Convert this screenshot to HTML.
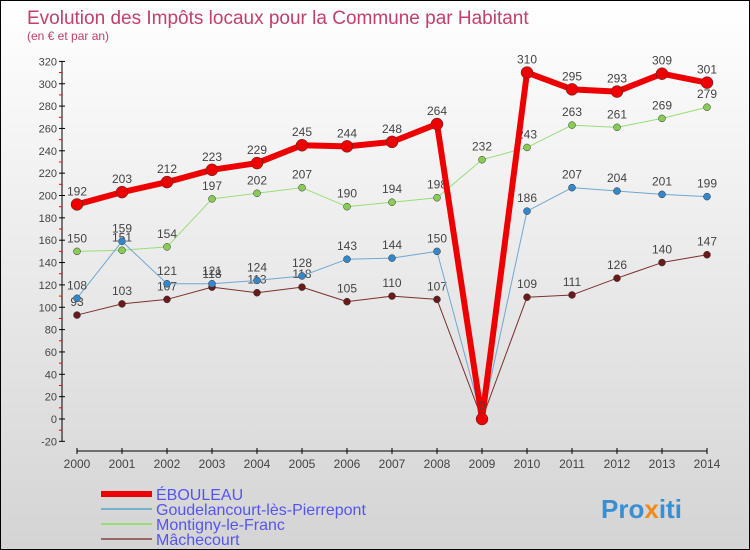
<!DOCTYPE html>
<html><head><meta charset="utf-8"><style>
body{margin:0}
#wrap{position:relative;width:750px;height:550px;box-sizing:border-box;border:1px solid #000;background:linear-gradient(#fff,#d4d4d4);font-family:"Liberation Sans",sans-serif;overflow:hidden}
</style></head><body>
<div id="wrap">
<svg id="c" width="750" height="550" style="position:absolute;left:0;top:0">
<text x="26" y="23" font-size="19" fill="#c0406a">Evolution des Impôts locaux pour la Commune par Habitant</text>
<text x="26" y="39" font-size="12" fill="#c0406a">(en € et par an)</text>
<text x="600" y="517" font-size="26" font-weight="bold" fill="#3a8fd0">Pro<tspan fill="#f08a1c">x</tspan>iti</text>
</svg>
</div>
<script>
const years=["2000","2001","2002","2003","2004","2005","2006","2007","2008","2009","2010","2011","2012","2013","2014"];
const yTicks=[-20,0,20,40,60,80,100,120,140,160,180,200,220,240,260,280,300,320];
const eboul=[192,203,212,223,229,245,244,248,264,0,310,295,293,309,301];
const goud=[108,159,121,121,124,128,143,144,150,0,186,207,204,201,199];
const mont=[150,151,154,197,202,207,190,194,198,232,243,263,261,269,279];
const mach=[93,103,107,118,113,118,105,110,107,0,109,111,126,140,147];
const svg=document.getElementById('c');const NS='http://www.w3.org/2000/svg';
const X=i=>76+i*45.0;const Y=v=>418-v*1.1175;
function mk(t,a,p){const e=document.createElementNS(NS,t);for(const k in a)e.setAttribute(k,a[k]);(p||svg).appendChild(e);return e;}
let ax=mk('line',{x1:61,y1:Y(320),x2:61,y2:Y(-20),stroke:'#000'});


yTicks.forEach(v=>{mk('line',{x1:58,x2:64,y1:Y(v),y2:Y(v),stroke:'#000'});
if(v<320)mk('line',{x1:58,x2:61,y1:Y(v+10),y2:Y(v+10),stroke:'red'});
const t=mk('text',{x:56,y:Y(v)+4,'font-size':11,fill:'#444','text-anchor':'end'});t.textContent=v;

});
let xa=mk('line',{x1:76,y1:450,x2:X(14),y2:450,stroke:'#000'});


years.forEach((y,i)=>{mk('line',{x1:X(i),x2:X(i),y1:447,y2:453,stroke:'#000'});
const t=mk('text',{x:X(i),y:467,'font-size':12,fill:'#444','text-anchor':'middle'});t.textContent=y;

});
function series(d,col,dot,w,r,name){
const g=mk('g',{});


mk('polyline',{points:d.map((v,i)=>X(i)+','+Y(v)).join(' '),fill:'none',stroke:col,'stroke-width':w,'stroke-linejoin':'round'},g);
d.forEach((v,i)=>{const c=mk('circle',{cx:X(i),cy:Y(v),r:r,fill:dot,stroke:'#333','stroke-width':0.5},g);


const t=mk('text',{x:X(i),y:Y(v)-9,'font-size':12,fill:'#444','text-anchor':'middle'},g);t.textContent=v;});}
series(mach,'#7a3030','#6a1a1a',1,3.5,'series-machecourt');
series(mont,'#99dd77','#88cc55',1,3.5,'series-montigny');
series(goud,'#6fa8d0','#3388cc',1,3.5,'series-goudelancourt');
series(eboul,'#ee0000','#ee0000',6,6,'series-ebouleau');
const leg=[['ÉBOULEAU','#ee0000',6],['Goudelancourt-lès-Pierrepont','#7ab0d0',2],['Montigny-le-Franc','#99dd77',2],['Mâchecourt','#996666',2]];
leg.forEach((l,i)=>{const y=493+i*15;const g=mk('g',{});


mk('line',{x1:100,x2:151,y1:y,y2:y,stroke:l[1],'stroke-width':l[2]},g);
const t=mk('text',{x:155,y:y+6,'font-size':16,fill:'#5555ee'},g);t.textContent=l[0];});
</script>
</body></html>
